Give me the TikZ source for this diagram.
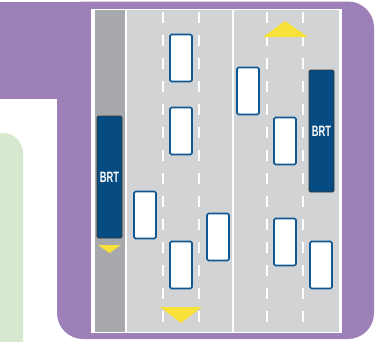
\documentclass[tikz,border=0pt]{standalone}
\usepackage{fontspec}
\setsansfont{Liberation Sans}
\usepackage{xcolor}
\usepackage{tikz}
\usetikzlibrary{positioning}

\definecolor{lilac}{HTML}{9D80B8}
\definecolor{mint}{HTML}{D6E9CE}
\definecolor{asphalt}{HTML}{D1D3D4}
\definecolor{buslane}{HTML}{A7A9AC}
\definecolor{busblue}{HTML}{064C82}
\definecolor{carblue}{HTML}{0F5894}
\definecolor{arrowyellow}{HTML}{F8E23A}

\begin{document}
\begin{tikzpicture}[x=1pt, y=-1pt,
    car/.style={rectangle, draw=carblue, fill=white, line width=1.6pt, rounded corners=1.5pt, minimum width=22pt, minimum height=47pt, inner sep=0pt},
    bus/.style={rectangle, draw=black!80, fill=busblue, line width=0.8pt, rounded corners=1.5pt, minimum width=25pt, minimum height=122pt, inner sep=0pt, text=white, font=\sffamily\bfseries\fontsize{15}{15}\selectfont},
    lanemark/.style={draw=white, line width=1.6pt, dash pattern=on 11pt off 12pt, dash phase=-2pt},
    dir/.style={fill=arrowyellow}
]
    \useasboundingbox (0,0) rectangle (383,341);
    \fill[white] (0,0) rectangle (383,341);

    \begin{scope}
    \clip (0,0) rectangle (383,341);
    % green block on the left
    \fill[mint, rounded corners=20pt] (-40,133) rectangle (23,400);
    % purple frame
    \fill[lilac, rounded corners=26pt] (57,1.5) rectangle (374,339);
    \fill[lilac] (0,1.5) rectangle (90,99);
    \end{scope}

    % road
    \fill[white] (91,9) rectangle (342,333);
    \fill[buslane] (95,10) rectangle (125,332);
    \fill[asphalt] (127,10) rectangle (339,332);
    \draw[white, line width=2pt] (233,10) -- (233,332);
    \foreach \x in {163,199,267,303}
        \draw[lanemark] (\x,10) -- (\x,332);

    % cars
    \node[car] (carA) at (181,58) {};
    \node[car] (carB) at (181,131) {};
    \node[car] (carC) at (145,215) {};
    \node[car] (carD) at (181,265) {};
    \node[car] (carE) at (218,237) {};
    \node[car] (carF) at (248,91) {};
    \node[car] (carG) at (285,141) {};
    \node[car] (carH) at (285,242) {};
    \node[car] (carI) at (321,265) {};

    % BRT buses
    \node[bus] (brtL) at (109.5,177) {\scalebox{0.62}[1]{BRT}};
    \node[bus] (brtR) at (321.5,131) {\scalebox{0.62}[1]{BRT}};

    % direction arrows
    \fill[dir] (263,37) -- (285,21) -- (308,37) -- cycle;
    \fill[dir] (98,245) -- (109.5,253) -- (121,245) -- cycle;
    \fill[dir] (160,307) -- (181,323) -- (202,307) -- cycle;
\end{tikzpicture}
\end{document}
